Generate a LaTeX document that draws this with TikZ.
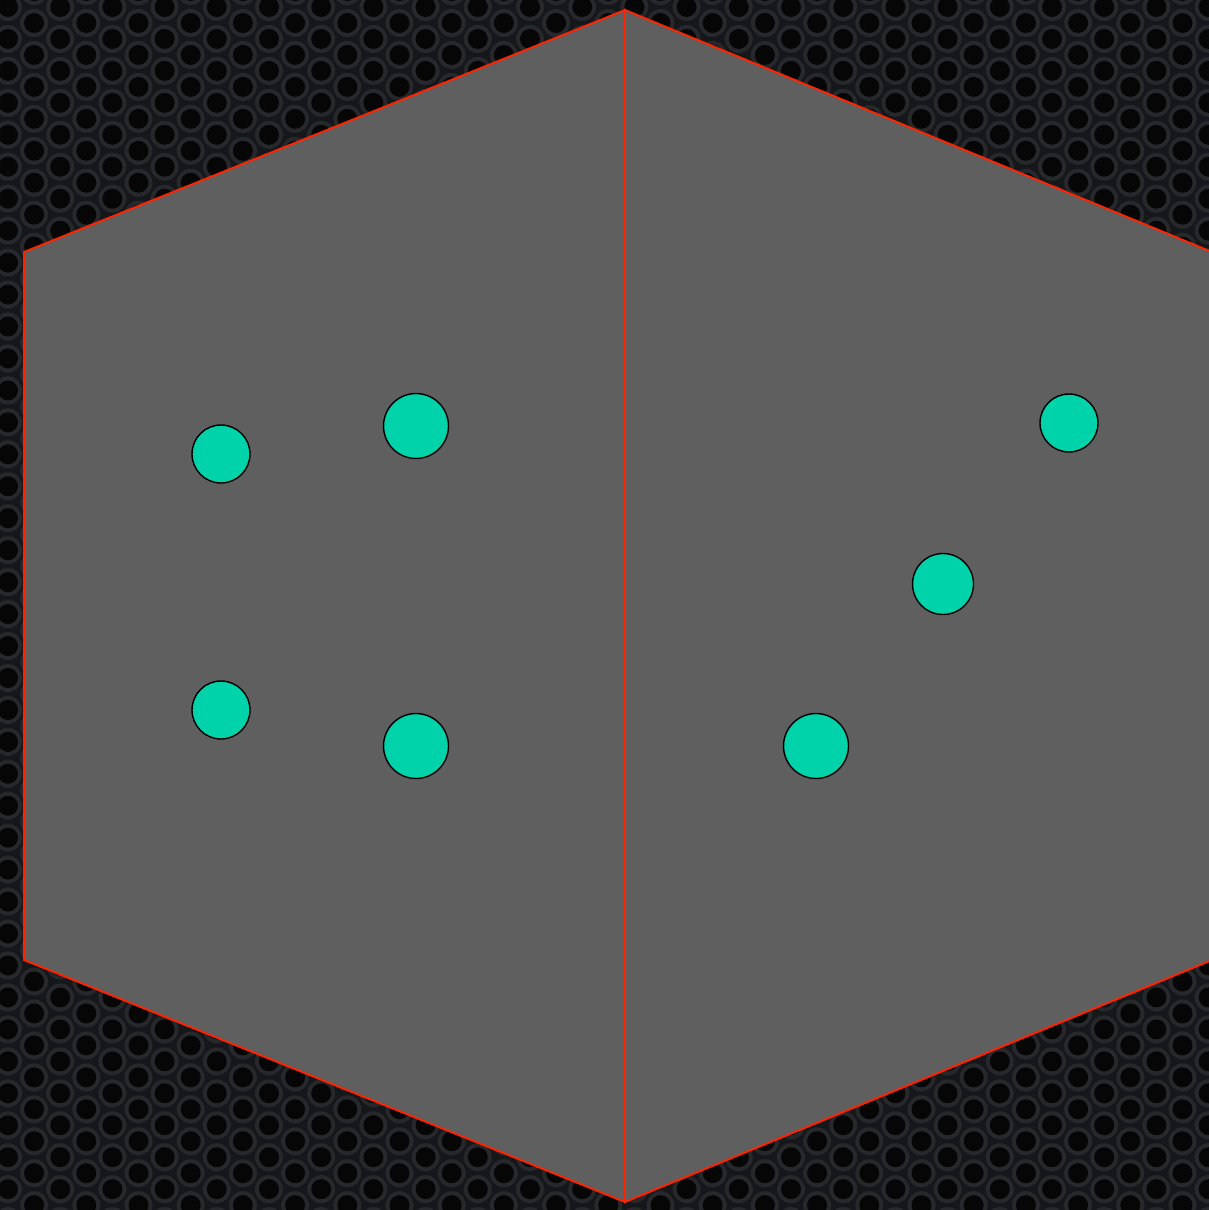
\documentclass[tikz,border=0pt]{standalone}
\usepackage{tikz}
\usetikzlibrary{calc}

\definecolor{fondo}{HTML}{16171A}
\definecolor{aro}{HTML}{27282B}
\definecolor{hueco}{HTML}{060606}
\definecolor{cara}{HTML}{5F5F5F}
\definecolor{borde}{HTML}{FF2400}
\definecolor{turquesa}{HTML}{00D2AA}

\begin{document}
\begin{tikzpicture}[
    x=0.02cm, y=-0.02cm,
    face/.style={fill=cara, draw=borde, line width=1.1pt, line join=miter},
    dotS/.style={circle, draw=black, line width=0.8pt, fill=turquesa, inner sep=0pt, minimum size=1.16cm},
    dotM/.style={dotS, minimum size=1.22cm},
    dotL/.style={dotS, minimum size=1.30cm}
  ]
  \useasboundingbox (0,0) rectangle (1209,1210);

  % Fondo de chapa perforada
  \fill[fondo] (0,0) rectangle (1209,1210);
  \foreach \i in {0,2,...,46} {
    \foreach \j in {0,...,38} {
      \fill[aro] (8+26.1*\i, 7+31.95*\j) circle[radius=14];
      \fill[hueco] (8+26.1*\i, 7+31.95*\j) circle[radius=10];
    }
  }
  \foreach \i in {1,3,...,47} {
    \foreach \j in {-1,...,37} {
      \fill[aro] (8+26.1*\i, 23+31.95*\j) circle[radius=14];
      \fill[hueco] (8+26.1*\i, 23+31.95*\j) circle[radius=10];
    }
  }

  % Vertices del hexagono
  \coordinate (top) at (625,10);
  \coordinate (lt) at (24,252);
  \coordinate (lb) at (24,960);
  \coordinate (bot) at (625,1202);
  \coordinate (rt) at (1212,252);
  \coordinate (rb) at (1212,960);

  % Caras
  \draw[face] (top) -- (lt) -- (lb) -- (bot) -- cycle;
  \draw[face] (top) -- (rt) -- (rb) -- (bot) -- cycle;

  % Puntos de la cara izquierda
  \node[dotS] (l1) at (221,454) {};
  \node[dotL] (l2) at (416,426) {};
  \node[dotS] (l3) at (221,710) {};
  \node[dotL] (l4) at (416,746) {};

  % Puntos de la cara derecha
  \node[dotS] (r1) at (1069,423) {};
  \node[dotM] (r2) at (943,584) {};
  \node[dotL] (r3) at (816,746) {};
\end{tikzpicture}
\end{document}
